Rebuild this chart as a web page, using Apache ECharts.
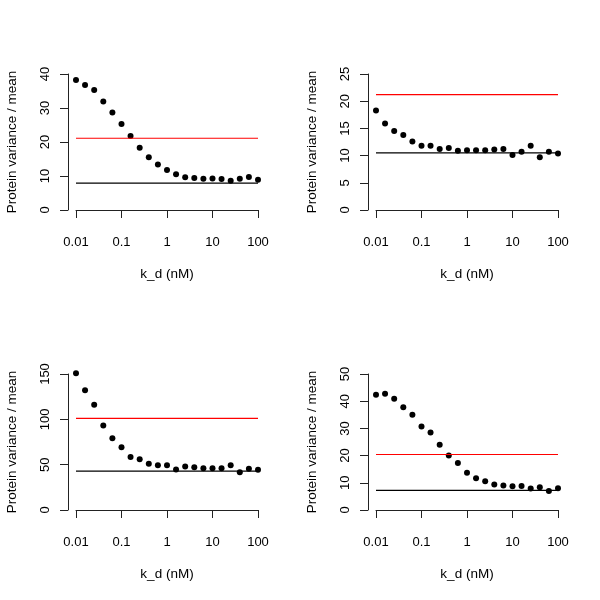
<!DOCTYPE html>
<html>
<head>
<meta charset="utf-8">
<script src="https://cdn.jsdelivr.net/npm/echarts@6/dist/echarts.min.js"></script>
<style>html,body{margin:0;padding:0;background:#fff}#c{width:600px;height:600px}</style>
</head>
<body>
<div id="c"></div>
<script>
const kd = [0.01, 0.0158, 0.0251, 0.0398, 0.0631, 0.1, 0.158, 0.251, 0.398, 0.631, 1, 1.58, 2.51, 3.98, 6.31, 10, 15.8, 25.1, 39.8, 63.1, 100];
const ratio1 = [38.2, 36.8, 35.3, 31.9, 28.7, 25.3, 21.8, 18.3, 15.5, 13.4, 11.8, 10.5, 9.6, 9.4, 9.2, 9.3, 9.1, 8.6, 9.2, 9.7, 8.9];
const ratio2 = [18.3, 15.9, 14.5, 13.8, 12.6, 11.8, 11.8, 11.2, 11.4, 10.9, 11.0, 11.0, 11.0, 11.1, 11.2, 10.1, 10.7, 11.8, 9.7, 10.7, 10.4];
const ratio3 = [150.7, 132, 116, 93.3, 79, 69.2, 58.5, 56, 50.9, 49.4, 49.4, 44.6, 48, 47.2, 46.1, 46.1, 46.1, 49.4, 41.7, 45.4, 44.3];
const ratio4 = [42.4, 42.7, 40.9, 37.8, 35, 30.7, 28.5, 24, 20, 17.3, 13.7, 11.7, 10.6, 9.4, 9.0, 8.7, 8.8, 7.9, 8.4, 7.0, 8.0];
const redLevels = [21.1, 21.2, 101, 20.4];
const blackLevels = [7.9, 10.5, 42.8, 7.2];
const yMax = [40, 25, 150, 50];
const yStep = [10, 5, 50, 10];
const xTitle = 'k_d (nM)';
const yTitle = 'Protein variance / mean';

const panels = [ratio1, ratio2, ratio3, ratio4];
const pos = [[76, 74], [376, 74], [76, 374], [376, 374]];
const font = 'Liberation Sans, Arial, Helvetica, sans-serif';
const axisCol = '#222';

const grid = [], xAxis = [], yAxis = [], series = [];
panels.forEach((vals, i) => {
  grid.push({left: pos[i][0], top: pos[i][1], width: 182, height: 136});
  xAxis.push({
    type: 'log', logBase: 10, min: 0.01, max: 100, gridIndex: i, offset: 5,
    name: xTitle, nameLocation: 'middle', nameGap: 52,
    nameTextStyle: {fontFamily: font, fontSize: 13.5, color: '#000'},
    axisLine: {show: true, lineStyle: {color: axisCol, width: 1}},
    axisTick: {show: true, length: 8, lineStyle: {color: axisCol}},
    minorTick: {show: false},
    axisLabel: {margin: 21, fontFamily: font, fontSize: 13, color: '#000',
      formatter: v => String(Number(Number(v).toPrecision(3)))},
    splitLine: {show: false}
  });
  yAxis.push({
    type: 'value', min: 0, max: yMax[i], interval: yStep[i], gridIndex: i, offset: 8,
    name: yTitle, nameLocation: 'middle', nameGap: 49,
    nameTextStyle: {fontFamily: font, fontSize: 13.5, color: '#000'},
    axisLine: {show: true, lineStyle: {color: axisCol, width: 1}},
    axisTick: {show: true, length: 8, lineStyle: {color: axisCol}},
    axisLabel: {rotate: 90, margin: 16, fontFamily: font, fontSize: 13, color: '#000'},
    splitLine: {show: false}
  });
  series.push({
    type: 'line', xAxisIndex: i, yAxisIndex: i, symbol: 'none', silent: true,
    data: [[kd[0], redLevels[i]], [kd[kd.length - 1], redLevels[i]]],
    lineStyle: {color: '#ff0000', width: 1.2}
  });
  series.push({
    type: 'line', xAxisIndex: i, yAxisIndex: i, symbol: 'none', silent: true,
    data: [[kd[0], blackLevels[i]], [kd[kd.length - 1], blackLevels[i]]],
    lineStyle: {color: '#000', width: 1.2}
  });
  series.push({
    type: 'scatter', xAxisIndex: i, yAxisIndex: i, symbolSize: 6, clip: false, silent: true,
    data: kd.map((k, j) => [k, vals[j]]),
    itemStyle: {color: '#000', opacity: 1}
  });
});

const chart = echarts.init(document.getElementById('c'), null, {renderer: 'canvas'});
chart.setOption({animation: false, backgroundColor: '#fff', grid, xAxis, yAxis, series});
</script>
</body>
</html>
